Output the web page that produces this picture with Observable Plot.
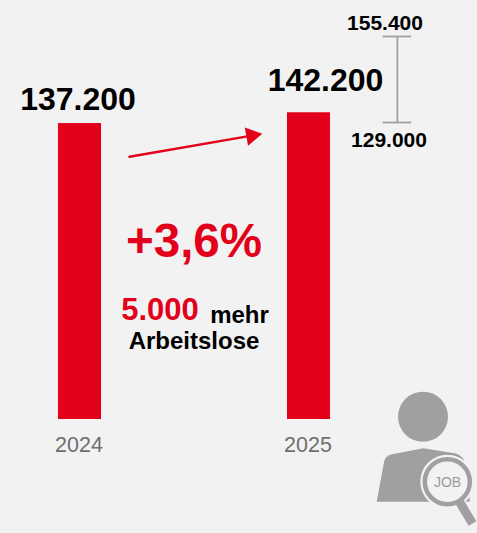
<!DOCTYPE html>
<html><head><meta charset="utf-8">
<script src="https://cdn.jsdelivr.net/npm/d3@7"></script>
<script src="https://cdn.jsdelivr.net/npm/@observablehq/plot@0.6"></script>
<style>html,body{margin:0;padding:0;background:#f2f2f2}svg{display:block}</style>
</head><body><div id="c"></div><script>
const years = [2024, 2025];
const values = [137200, 142200];
const valueLabels = ["137.200", "142.200"];
const rangeLabels = ["155.400", "129.000"];
const change = "+3,6%";
const more = "5.000";
const RED = "#e2001a", GREY = "#a0a0a0", BG = "#f2f2f2";
const FONT = "'Liberation Sans', Arial, sans-serif";
const halfBar = 0.094;
const rows = years.map((year, i) => ({year, value: values[i], label: valueLabels[i]}));

// Annotation anchors, in chart units (year, persons)
const arrowFrom = {x: 2024.2162, y: 121790}, arrowTo = {x: 2024.7498, y: 131600};
const whisker = {x: 2025.386, top: 177560, bottom: 137690, cap: 0.062};

function icon() {
  const g = d3.create("svg:g");
  g.append("circle").attr("cx", 423).attr("cy", 416.7).attr("r", 25).attr("fill", GREY);
  g.append("path").attr("fill", GREY)
    .attr("d", "M376.7 501.7L384 462Q385 456 391 454.5L423.3 448.3L456 453.5Q461 455 464 460L470 501.7Z");
  g.append("circle").attr("cx", 447.3).attr("cy", 481.7).attr("r", 27).attr("fill", BG);
  g.append("path").attr("fill", BG).attr("d", "M430 501.7H477V533H430Z");
  g.append("line").attr("x1", 459).attr("y1", 501).attr("x2", 472.5).attr("y2", 523.5)
    .attr("stroke", GREY).attr("stroke-width", 9);
  g.append("circle").attr("cx", 447.3).attr("cy", 481.7).attr("r", 22.5).attr("fill", BG)
    .attr("stroke", GREY).attr("stroke-width", 4.5);
  g.append("text").attr("x", 447.5).attr("y", 486.5).attr("text-anchor", "middle")
    .attr("font-size", 14).attr("font-family", FONT).attr("fill", "#999").text("JOB");
  return g.node();
}

const note = (text, dx, dy, fontSize, fill) => Plot.text([text], {
  text: d => d, frameAnchor: "top-left", dx, dy, fontSize, fill,
  fontWeight: "bold", textAnchor: "middle", lineAnchor: "middle"
});

const chart = Plot.plot({
  width: 477, height: 533,
  marginTop: 0, marginRight: 0, marginBottom: 114, marginLeft: 0,
  style: {background: BG, fontFamily: FONT},
  x: {type: "linear", domain: [2024, 2025], range: [79.5, 308.5], axis: null},
  y: {domain: [0, 194250], range: [419, 0], axis: null},
  marks: [
    Plot.rectY(rows, {x1: d => d.year - halfBar, x2: d => d.year + halfBar, y: "value", fill: RED}),
    Plot.axisX({ticks: years, tickFormat: d => String(d), tickSize: 0, tickPadding: 17, dx: -1,
      fontSize: 21.5, color: "#6e6e6e", anchor: "bottom", label: null}),
    Plot.text(rows, {x: "year", y: "value", text: "label", fontSize: 32, fontWeight: "bold", fill: "#000",
      dx: -2, dy: -24, lineAnchor: "middle", filter: d => d.year === 2024}),
    Plot.text(rows, {x: "year", y: "value", text: "label", fontSize: 32, fontWeight: "bold", fill: "#000",
      dx: 16.5, dy: -32, lineAnchor: "middle", filter: d => d.year === 2025}),
    Plot.line([arrowFrom, arrowTo], {x: "x", y: "y", stroke: RED, strokeWidth: 2.4}),
    Plot.dot([arrowTo], {x: "x", y: "y", symbol: "triangle", r: 6.9, rotate: 80, fill: RED, stroke: "none"}),
    Plot.ruleX([whisker], {x: "x", y1: "top", y2: "bottom", stroke: GREY, strokeWidth: 1.8}),
    Plot.ruleY([whisker.top, whisker.bottom], {x1: whisker.x - whisker.cap, x2: whisker.x + whisker.cap, stroke: GREY, strokeWidth: 1.8}),
    note(rangeLabels[0], 384.5, 23, 21, "#000"),
    note(rangeLabels[1], 388.5, 140, 21, "#000"),
    note(change, 193.5, 241, 47.5, RED),
    note(more, 159.5, 310, 31, RED),
    note("mehr", 239, 315, 24, "#000"),
    note("Arbeitslose", 193.5, 341, 24, "#000"),
    icon
  ]
});
document.getElementById("c").append(chart);
</script></body></html>
